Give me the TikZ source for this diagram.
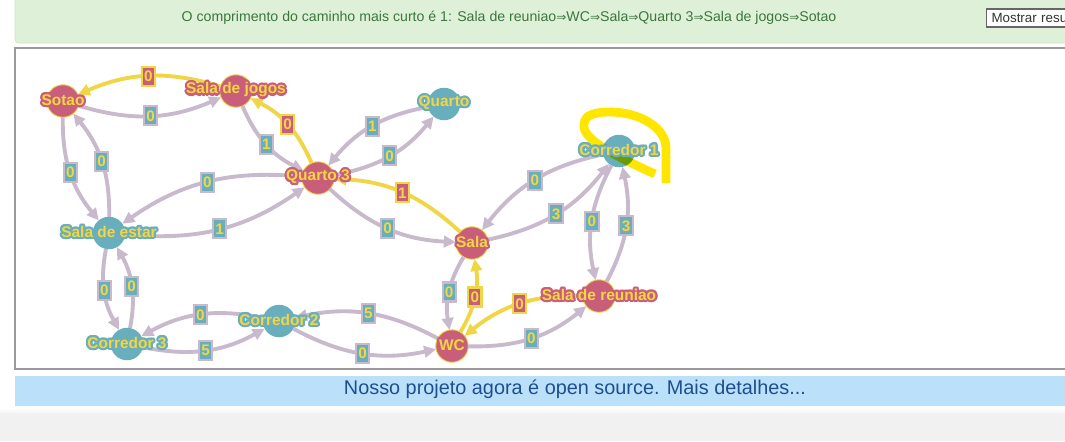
\documentclass[tikz,border=0pt]{standalone}
\usepackage{fontspec}
\setmainfont{Liberation Sans}
\newfontfamily\arrowfont[Scale=0.85]{DejaVu Sans}
\usepackage{xcolor}
\usepackage{contour}
\usepackage{tikz}
\usetikzlibrary{arrows.meta}
\definecolor{roompink}{RGB}{201,94,122}
\definecolor{roomteal}{RGB}{104,174,189}
\definecolor{lblyellow}{RGB}{243,214,66}
\definecolor{edgelilac}{RGB}{200,185,205}
\definecolor{pathyellow}{RGB}{240,214,68}
\definecolor{markyellow}{RGB}{255,230,0}
\definecolor{alertgreen}{RGB}{223,240,216}
\definecolor{alertline}{RGB}{208,230,198}
\definecolor{alerttext}{RGB}{60,118,61}
\definecolor{bannerblue}{RGB}{187,225,250}
\definecolor{bannertext}{RGB}{30,78,145}
\definecolor{pagegray}{RGB}{241,241,241}
\contourlength{1.2pt}
\newcommand{\thento}{{\arrowfont ⇒}}

\begin{document}
\begin{tikzpicture}[
  x=0.02cm, y=-0.02cm,
  room/.style={circle, minimum size=0.65cm, inner sep=0pt, outer sep=0pt},
  pinkroom/.style={room, fill=roompink, draw=lblyellow, line width=0.5pt},
  tealroom/.style={room, fill=roomteal},
  roomname/.style={inner sep=0pt, text=lblyellow, font=\bfseries\fontsize{8.8}{10}\selectfont},
  edge/.style={-{Triangle[length=6.8pt,width=6.5pt]}, line width=2.2pt, draw=edgelilac, bend right=20},
  hot/.style={edge, draw=pathyellow},
  wt/.style={rectangle, fill=roomteal, draw=edgelilac, line width=1.2pt, text=lblyellow,
    minimum width=7.6pt, minimum height=10.8pt, inner sep=0.5pt, font=\bfseries\fontsize{8.7}{9}\selectfont},
  hotwt/.style={wt, fill=roompink, draw=pathyellow}
]
\useasboundingbox (0,0) rectangle (1065,441);
\clip (0,0) rectangle (1065,441);
\fill[white] (0,0) rectangle (1065,441);
\shade[top color=white, bottom color=pagegray] (0,408) rectangle (1065,414);
\fill[pagegray] (0,414) rectangle (1065,441);
\filldraw[fill=alertgreen, draw=alertline, rounded corners=2pt] (15,-10) rectangle (1080,43);
\draw[black!40, line width=0.6pt] (15,48) rectangle (1080,369);
\fill[bannerblue] (15,376) rectangle (1065,406);

\node[text=alerttext, font=\fontsize{8.05}{9}\selectfont] (msg) at (509,18)
  {O comprimento do caminho mais curto é 1: Sala de reuniao\thento WC\thento Sala\thento Quarto 3\thento Sala de jogos\thento Sotao};
\node[draw=black!60, fill=white, line width=0.6pt, anchor=west, minimum height=0.36cm, minimum width=2cm,
  inner sep=2pt, text=black!80, font=\fontsize{7.6}{9}\selectfont, align=left, text width=1.8cm] (showbtn) at (986,18) {Mostrar resu};
\node[text=bannertext, font=\fontsize{11.3}{13}\selectfont] (note) at (575,389) {Nosso projeto agora é open source. Mais detalhes...};

\node[pinkroom] (sotao) at (63,101) {};
\node[pinkroom] (jogos) at (236,91) {};
\node[tealroom] (quarto) at (444,104) {};
\node[pinkroom] (quarto3) at (318,178) {};
\node[tealroom] (corr1) at (619,151) {};
\node[tealroom] (estar) at (109,233) {};
\node[pinkroom] (sala) at (472,243) {};
\node[pinkroom] (reuniao) at (599,296) {};
\node[tealroom] (corr3) at (127,344) {};
\node[tealroom] (corr2) at (279,321) {};
\node[pinkroom] (wc) at (452,346) {};

\draw[hot] (jogos) to node[hotwt] {0} (sotao);
\draw[edge] (sotao) to node[wt] {0} (jogos);
\draw[edge] (sotao) to node[wt] {0} (estar);
\draw[edge] (estar) to node[wt] {0} (sotao);
\draw[edge] (jogos) to node[wt] {1} (quarto3);
\draw[hot] (quarto3) to node[hotwt] {0} (jogos);
\draw[edge] (quarto) to node[wt] {1} (quarto3);
\draw[edge] (quarto3) to node[wt] {0} (quarto);
\draw[edge] (quarto3) to node[wt] {0} (estar);
\draw[edge] (estar) to node[wt] {1} (quarto3);
\draw[hot] (sala) to node[hotwt] {1} (quarto3);
\draw[edge] (quarto3) to node[wt] {0} (sala);
\draw[edge] (corr1) to node[wt] {0} (sala);
\draw[edge] (sala) to node[wt] {3} (corr1);
\draw[edge] (corr1) to node[wt] {0} (reuniao);
\draw[edge] (reuniao) to node[wt] {3} (corr1);
\draw[edge] (sala) to node[wt] {0} (wc);
\draw[hot] (wc) to node[hotwt] {0} (sala);
\draw[hot] (reuniao) to node[hotwt] {0} (wc);
\draw[edge] (wc) to node[wt] {0} (reuniao);
\draw[edge] (wc) to node[wt] {5} (corr2);
\draw[edge] (corr2) to node[wt] {0} (wc);
\draw[edge] (corr2) to node[wt] {0} (corr3);
\draw[edge] (corr3) to node[wt] {5} (corr2);
\draw[edge] (estar) to node[wt] {0} (corr3);
\draw[edge] (corr3) to node[wt] {0} (estar);

\begin{scope}[blend mode=multiply]
\draw[markyellow, line width=5pt] (666,183) -- (666,148) .. controls (666,128) and (640,112) .. (610,112)
  .. controls (590,112) and (583,117) .. (584,127) .. controls (585,140) and (615,156) .. (655,174);
\end{scope}

\node[roomname] (sotaotxt) at (sotao) {\contour{roompink}{Sotao}};
\node[roomname] (jogostxt) at (jogos) {\contour{roompink}{Sala de jogos}};
\node[roomname] (quartotxt) at (quarto) {\contour{roomteal}{Quarto}};
\node[roomname] (quarto3txt) at (quarto3) {\contour{roompink}{Quarto 3}};
\node[roomname] (corr1txt) at (corr1) {\contour{roomteal}{Corredor 1}};
\node[roomname] (estartxt) at (estar) {\contour{roomteal}{Sala de estar}};
\node[roomname] (salatxt) at (sala) {\contour{roompink}{Sala}};
\node[roomname] (reuniaotxt) at (reuniao) {\contour{roompink}{Sala de reuniao}};
\node[roomname] (corr3txt) at (corr3) {\contour{roomteal}{Corredor 3}};
\node[roomname] (corr2txt) at (corr2) {\contour{roomteal}{Corredor 2}};
\node[roomname] (wctxt) at (wc) {\contour{roompink}{WC}};
\end{tikzpicture}
\end{document}
